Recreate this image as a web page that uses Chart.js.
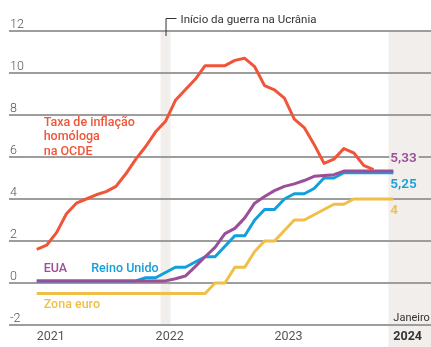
<!DOCTYPE html>
<html lang="pt">
<head>
<meta charset="utf-8">
<script src="https://cdn.jsdelivr.net/npm/chart.js@4.4.1/dist/chart.umd.min.js"></script>
<style>
  html, body { margin: 0; padding: 0; background: #fff; }
  #wrap { width: 431px; height: 347px; position: relative; }
</style>
</head>
<body>
<div id="wrap"><canvas id="chart"></canvas></div>
<script>
// Monthly series, January 2021 to January 2024
const months = [
  "2021-01", "2021-02", "2021-03", "2021-04", "2021-05", "2021-06", "2021-07", "2021-08", "2021-09", "2021-10", "2021-11", "2021-12",
  "2022-01", "2022-02", "2022-03", "2022-04", "2022-05", "2022-06", "2022-07", "2022-08", "2022-09", "2022-10", "2022-11", "2022-12",
  "2023-01", "2023-02", "2023-03", "2023-04", "2023-05", "2023-06", "2023-07", "2023-08", "2023-09", "2023-10", "2023-11", "2023-12",
  "2024-01"
]

// OECD year-on-year inflation (ends November 2023)
const inflacaoOCDE = [
  1.6, 1.8, 2.4, 3.3, 3.8, 4.0, 4.2, 4.35, 4.6, 5.2, 5.9, 6.5,
  7.2, 7.7, 8.7, 9.2, 9.7, 10.35, 10.35, 10.35, 10.6, 10.7, 10.3, 9.4,
  9.2, 8.8, 7.8, 7.4, 6.6, 5.7, 5.9, 6.4, 6.2, 5.6, 5.4
]

// Policy rates
const taxaEUA = [
  0.1, 0.1, 0.1, 0.1, 0.1, 0.1, 0.1, 0.1, 0.1, 0.1, 0.1, 0.1,
  0.1, 0.1, 0.2, 0.33, 0.78, 1.25, 1.7, 2.35, 2.6, 3.1, 3.8, 4.12,
  4.4, 4.6, 4.72, 4.88, 5.08, 5.12, 5.16, 5.33, 5.33, 5.33, 5.33, 5.33,
  5.33
]
const taxaReinoUnido = [
  0.1, 0.1, 0.1, 0.1, 0.1, 0.1, 0.1, 0.1, 0.1, 0.1, 0.1, 0.25,
  0.25, 0.5, 0.75, 0.75, 1.0, 1.25, 1.25, 1.75, 2.25, 2.25, 3.0, 3.5,
  3.5, 4.0, 4.25, 4.25, 4.5, 5.0, 5.0, 5.25, 5.25, 5.25, 5.25, 5.25,
  5.25
]
const taxaZonaEuro = [
  -0.5, -0.5, -0.5, -0.5, -0.5, -0.5, -0.5, -0.5, -0.5, -0.5, -0.5, -0.5,
  -0.5, -0.5, -0.5, -0.5, -0.5, -0.5, 0, 0, 0.75, 0.75, 1.5, 2.0,
  2.0, 2.5, 3.0, 3.0, 3.25, 3.5, 3.75, 3.75, 4.0, 4.0, 4.0, 4.0,
  4.0
]

const yTicks = [-2, 0, 2, 4, 6, 8, 10, 12]
const yearLabels = ["2021", "2022", "2023", "2024"]
const warMonth = "2022-02"

const COLORS = {
  inflacao: "#f0553a",
  eua: "#9b4f98",
  reinoUnido: "#139fdc",
  zonaEuro: "#f0bf47",
  band: "#f1eeeb",
  grid: "#9d9d9d",
  text: "#555555",
  dark: "#333333"
}
const FONT = "Roboto, 'Noto Sans', sans-serif"

const toPoints = values => values.map((v, i) => ({ x: i, y: v }))
const fmt = v => String(v).replace(".", ",")
const last = arr => arr[arr.length - 1]

function lineDataset(label, values, color, order) {
  return {
    label,
    data: toPoints(values),
    borderColor: color,
    borderWidth: 3,
    pointRadius: 0,
    tension: 0,
    fill: false,
    order,
    borderJoinStyle: "round",
    borderCapStyle: "butt"
  }
}

const decorations = {
  id: "decorations",
  beforeDatasetsDraw(chart) {
    const { ctx, chartArea, scales: { x, y } } = chart
    const warIdx = months.indexOf(warMonth)
    ctx.save()

    // shaded bands: start of the war and the latest month
    ctx.fillStyle = COLORS.band
    const wx0 = x.getPixelForValue(warIdx - 0.5)
    const wx1 = x.getPixelForValue(warIdx + 0.5)
    ctx.fillRect(wx0, chartArea.top, wx1 - wx0, chartArea.bottom - chartArea.top)
    const jx = x.getPixelForValue(months.length - 1.5)
    ctx.fillRect(jx, chartArea.top, chart.width - jx, chart.height - chartArea.top)

    // horizontal grid
    ctx.strokeStyle = COLORS.grid
    ctx.lineWidth = 2
    yTicks.forEach(t => {
      const py = Math.round(y.getPixelForValue(t))
      ctx.beginPath()
      ctx.moveTo(chartArea.left, py)
      ctx.lineTo(chart.width, py)
      ctx.stroke()
    })

    // y tick labels sit above their lines
    ctx.fillStyle = COLORS.text
    ctx.font = "300 12.5px " + FONT
    ctx.textAlign = "left"
    ctx.textBaseline = "alphabetic"
    yTicks.forEach(t => {
      ctx.fillText(String(t), chartArea.left + 1, y.getPixelForValue(t) - 3)
    })

    // year labels, left aligned on January
    yearLabels.forEach(yr => {
      const px = x.getPixelForValue(months.indexOf(yr + "-01"))
      const bold = yr === last(yearLabels)
      ctx.fillStyle = bold ? COLORS.dark : COLORS.text
      ctx.font = (bold ? "700 " : "400 ") + "12.5px " + FONT
      ctx.fillText(yr, px, 340)
    })
    ctx.fillStyle = COLORS.dark
    ctx.font = "400 11px " + FONT
    ctx.fillText("Janeiro", x.getPixelForValue(months.length - 1), 321)

    // war annotation
    const wx = x.getPixelForValue(warIdx)
    ctx.strokeStyle = COLORS.dark
    ctx.lineWidth = 1
    ctx.beginPath()
    ctx.moveTo(wx + 0.5, chartArea.top + 5)
    ctx.lineTo(wx + 0.5, 18.5)
    ctx.lineTo(wx + 11, 18.5)
    ctx.stroke()
    ctx.fillStyle = COLORS.dark
    ctx.font = "400 11.5px " + FONT
    ctx.fillText("Início da guerra na Ucrânia", wx + 15, 22.5)
    ctx.restore()
  },
  afterDatasetsDraw(chart) {
    const { ctx, scales: { x, y } } = chart
    ctx.save()
    ctx.textAlign = "left"
    ctx.textBaseline = "alphabetic"

    // series names
    ctx.font = "500 12.5px " + FONT
    ctx.fillStyle = COLORS.inflacao
    const ix = x.getPixelForValue(0.7)
    const iy = y.getPixelForValue(7.48)
    ;["Taxa de inflação", "homóloga", "na OCDE"].forEach((s, k) => ctx.fillText(s, ix, iy + k * 14.5))

    ctx.fillStyle = COLORS.eua
    ctx.fillText("EUA", x.getPixelForValue(0.7), y.getPixelForValue(0.52))
    ctx.fillStyle = COLORS.reinoUnido
    ctx.fillText("Reino Unido", x.getPixelForValue(5.5), y.getPixelForValue(0.52))
    ctx.fillStyle = COLORS.zonaEuro
    ctx.fillText("Zona euro", x.getPixelForValue(0.7), y.getPixelForValue(-1.19))

    // latest values
    const lx = x.getPixelForValue(months.length - 1) - 3
    const ends = [
      { v: last(taxaEUA), c: COLORS.eua, dy: -9 },
      { v: last(taxaReinoUnido), c: COLORS.reinoUnido, dy: 15.5 },
      { v: last(taxaZonaEuro), c: COLORS.zonaEuro, dy: 14.5 }
    ]
    ctx.font = "600 13.5px " + FONT
    ends.forEach(e => {
      const txt = fmt(e.v)
      const by = y.getPixelForValue(e.v) + e.dy
      const w = ctx.measureText(txt).width
      ctx.fillStyle = COLORS.band
      ctx.fillRect(lx - 1, by - 11, w + 3, 13)
      ctx.fillStyle = e.c
      ctx.fillText(txt, lx, by)
    })
    ctx.restore()
  }
}

new Chart(document.getElementById("chart"), {
  type: "line",
  data: {
    datasets: [
      lineDataset("Taxa de inflação homóloga na OCDE", inflacaoOCDE, COLORS.inflacao, 1),
      lineDataset("EUA", taxaEUA, COLORS.eua, 2),
      lineDataset("Reino Unido", taxaReinoUnido, COLORS.reinoUnido, 3),
      lineDataset("Zona euro", taxaZonaEuro, COLORS.zonaEuro, 4)
    ]
  },
  options: {
    responsive: true,
    maintainAspectRatio: false,
    animation: false,
    layout: { padding: { top: 31, bottom: 22, left: 9, right: 0 } },
    scales: {
      x: { type: "linear", min: -2.8, max: 39.8, display: false },
      y: { min: -2, max: 12, display: false }
    },
    plugins: {
      legend: { display: false },
      tooltip: { enabled: false }
    }
  },
  plugins: [decorations]
})
</script>
</body>
</html>
